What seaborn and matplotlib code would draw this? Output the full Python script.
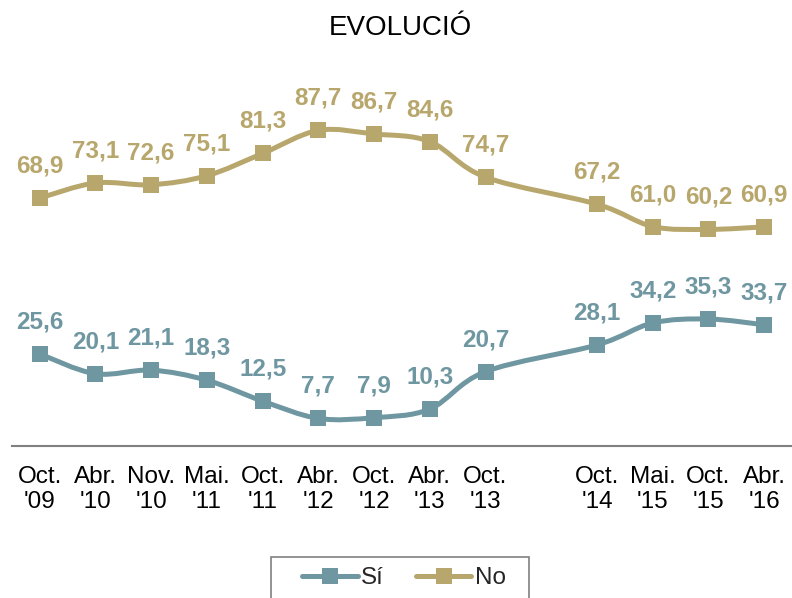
import matplotlib
matplotlib.use("Agg")
import matplotlib.pyplot as plt
import seaborn as sns
import pandas as pd
from matplotlib.path import Path
from matplotlib.patches import PathPatch, Rectangle
from matplotlib.lines import Line2D

# Data
periods = ["Oct.\n'09", "Abr.\n'10", "Nov.\n'10", "Mai.\n'11", "Oct.\n'11", "Abr.\n'12",
           "Oct.\n'12", "Abr.\n'13", "Oct.\n'13", "Oct.\n'14", "Mai.\n'15", "Oct.\n'15", "Abr.\n'16"]
slot = [0, 1, 2, 3, 4, 5, 6, 7, 8, 10, 11, 12, 13]
si = [25.6, 20.1, 21.1, 18.3, 12.5, 7.7, 7.9, 10.3, 20.7, 28.1, 34.2, 35.3, 33.7]
no = [68.9, 73.1, 72.6, 75.1, 81.3, 87.7, 86.7, 84.6, 74.7, 67.2, 61.0, 60.2, 60.9]
series_names = ["Sí", "No"]
colors = {"Sí": "#6F97A1", "No": "#B8A76C"}

df = pd.concat([
    pd.DataFrame({"slot": slot, "valor": si, "serie": "Sí"}),
    pd.DataFrame({"slot": slot, "valor": no, "serie": "No"}),
])

sns.set_theme(style="white")
plt.rcParams["font.family"] = ["Liberation Sans", "DejaVu Sans"]

fig = plt.figure(figsize=(7.92, 5.98), dpi=100)
ax = fig.add_axes([0.015, 0.254, 0.985, 0.602])

# markers via seaborn
sns.lineplot(data=df, x="slot", y="valor", hue="serie", hue_order=series_names,
             palette=colors, marker="s", markersize=11, markeredgewidth=0,
             linewidth=0, ax=ax, legend=False, zorder=3)


def smooth_path(xs, ys):
    pts = list(zip(xs, ys))
    n = len(pts)
    verts = [pts[0]]
    codes = [Path.MOVETO]
    for i in range(n - 1):
        p0 = pts[i - 1] if i > 0 else pts[i]
        p1 = pts[i]
        p2 = pts[i + 1]
        p3 = pts[i + 2] if i + 2 < n else pts[i + 1]
        c1 = (p1[0] + (p2[0] - p0[0]) / 6, p1[1] + (p2[1] - p0[1]) / 6)
        c2 = (p2[0] - (p3[0] - p1[0]) / 6, p2[1] - (p3[1] - p1[1]) / 6)
        verts += [c1, c2, p2]
        codes += [Path.CURVE4] * 3
    return Path(verts, codes)


for vals, name in [(si, "Sí"), (no, "No")]:
    ax.add_patch(PathPatch(smooth_path(slot, vals), facecolor="none",
                           edgecolor=colors[name], linewidth=3.6, zorder=2,
                           capstyle="round", joinstyle="round"))
    for xi, v in zip(slot, vals):
        ax.annotate(f"{v:.1f}".replace(".", ","), (xi, v), xytext=(0, 23),
                    textcoords="offset points", ha="center", va="center",
                    fontsize=17.5, fontweight="bold", color=colors[name])

ax.set_xlim(-0.5, 13.5)
ax.set_ylim(0, 100)
ax.set_xticks(slot)
ax.set_xticklabels(periods, fontsize=17.5, color="black", linespacing=1.2)
ax.set_yticks([])
ax.set_xlabel("")
ax.set_ylabel("")
ax.tick_params(axis="x", length=0, pad=14)
for s in ["top", "right", "left"]:
    ax.spines[s].set_visible(False)
ax.spines["bottom"].set_color("#808080")
ax.spines["bottom"].set_linewidth(1.5)

fig.text(0.505, 0.953, "EVOLUCIÓ", ha="center", va="center", fontsize=20, color="black")

# legend frame (extends below figure edge as in the reference)
fig.patches.append(Rectangle((271 / 792, -0.05), 258 / 792, 0.05 + (598 - 557) / 598,
                             transform=fig.transFigure, facecolor="white",
                             edgecolor="#808080", linewidth=1.2, zorder=1))
handles = [Line2D([], [], color=colors[n], linewidth=3.6, marker="s", markersize=11,
                  markeredgewidth=0) for n in series_names]
leg = fig.legend(handles, series_names, loc="center", bbox_to_anchor=(0.51, 1 - 578 / 598),
                 ncol=2, frameon=False, fontsize=17.5, handlelength=2.3,
                 handletextpad=0.15, columnspacing=1.3, borderpad=0, borderaxespad=0)
leg.set_zorder(2)

fig.savefig("out.png", dpi=100)
